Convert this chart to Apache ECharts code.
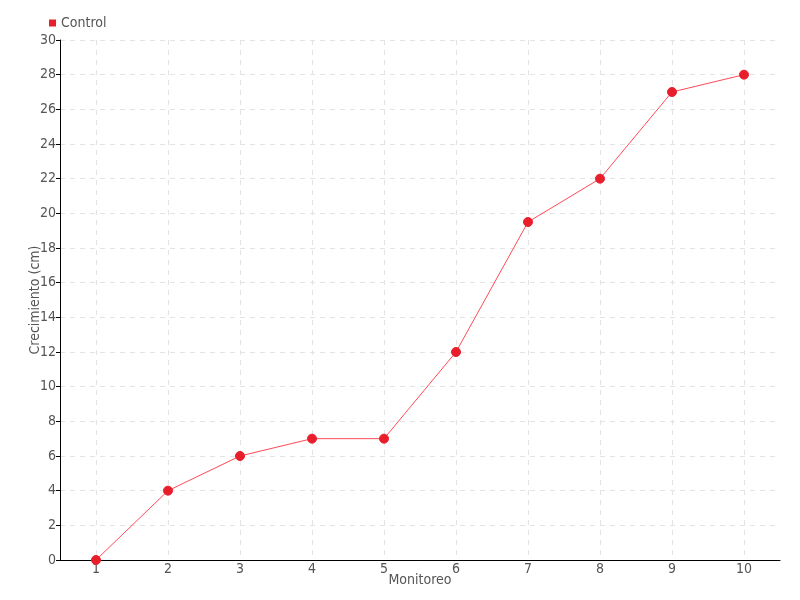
<!DOCTYPE html>
<html><head><meta charset="utf-8">
<script src="https://cdn.jsdelivr.net/npm/echarts@6/dist/echarts.min.js"></script>
<style>html,body{margin:0;padding:0;background:#fff}#c{width:800px;height:600px}</style>
</head><body><div id="c"></div>
<script>
const categories = ['1','2','3','4','5','6','7','8','9','10'];
const controlValues = [0, 4, 6, 7, 7, 12, 19.5, 22, 27, 28];
const seriesName = 'Control';
const xTitle = 'Monitoreo';
const yTitle = 'Crecimiento (cm)';

const font = '"DejaVu Sans Condensed", "Liberation Sans Narrow", sans-serif';
const chart = echarts.init(document.getElementById('c'));
chart.setOption({
  animation: false,
  textStyle: {fontFamily: font},
  legend: {
    left: 44, top: 11, itemWidth: 7, itemHeight: 7, itemGap: 3,
    icon: 'rect',
    textStyle: {fontFamily: font, fontSize: 14, color: '#555'},
    data: [seriesName]
  },
  grid: {left: 60, right: 20, top: 40, bottom: 40, containLabel: false},
  xAxis: {
    type: 'category', data: categories, boundaryGap: true,
    name: xTitle, nameLocation: 'middle', nameGap: 13, nameMoveOverlap: false,
    nameTextStyle: {fontFamily: font, fontSize: 14, color: '#555'},
    axisLine: {lineStyle: {color: '#000', width: 1}},
    axisTick: {alignWithLabel: true, length: 5, lineStyle: {color: '#000'}},
    axisLabel: {fontFamily: font, fontSize: 14, color: '#555', margin: 2},
    splitLine: {show: true, alignWithLabel: true, lineStyle: {color: '#e3e3e3', type: [5, 5]}}
  },
  yAxis: {
    type: 'value', min: 0, max: 30, interval: 2,
    name: yTitle, nameLocation: 'middle', nameGap: 18, nameRotate: 90, nameMoveOverlap: false,
    nameTextStyle: {fontFamily: font, fontSize: 14, color: '#555'},
    axisLine: {show: true, lineStyle: {color: '#000', width: 1}},
    axisTick: {show: true, length: 4, lineStyle: {color: '#000'}},
    axisLabel: {fontFamily: font, fontSize: 14, color: '#555', margin: 4},
    splitLine: {show: true, lineStyle: {color: '#e3e3e3', type: [5, 5]}}
  },
  series: [{
    name: seriesName, type: 'line', data: controlValues,
    symbol: 'circle', symbolSize: 9,
    itemStyle: {color: '#e81e2b', borderColor: '#e81e2b'},
    lineStyle: {color: '#ff4a57', width: 1},
    label: {show: false}
  }]
});
</script></body></html>
